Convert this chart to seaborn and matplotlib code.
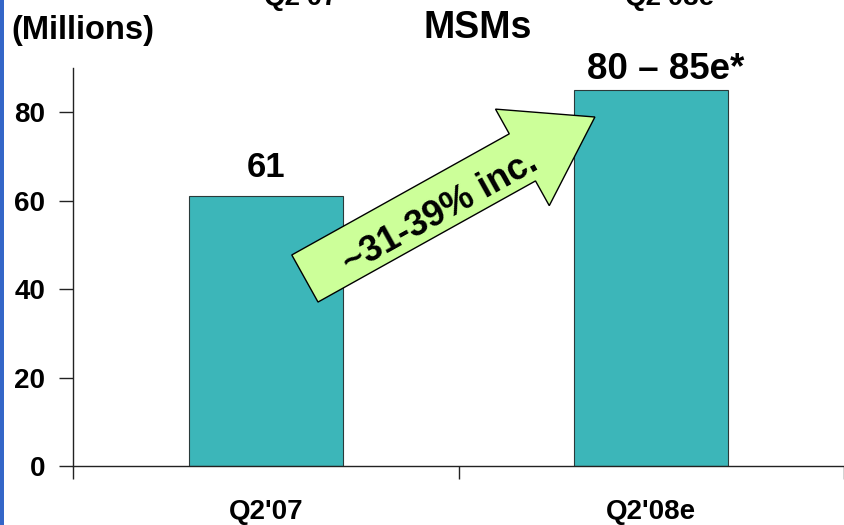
import matplotlib
matplotlib.use("Agg")
import matplotlib.pyplot as plt
from matplotlib.patches import FancyArrow, Rectangle
import seaborn as sns
import pandas as pd

# Data
quarters = ["Q2'07", "Q2'08e"]
msms_millions = [61, 85]
value_labels = ["61", "80 \u2013 85e*"]
yticks = [0, 20, 40, 60, 80]
growth_text = "~31-39% inc."

sns.set_theme(style="white")
plt.rcParams["font.family"] = ["Liberation Sans", "DejaVu Sans"]
plt.rcParams["font.weight"] = "bold"
plt.rcParams["text.color"] = "black"
plt.rcParams["xtick.labelcolor"] = "black"
plt.rcParams["ytick.labelcolor"] = "black"

W, H = 844, 525
fig = plt.figure(figsize=(W / 100, H / 100), dpi=100)
fig.patch.set_facecolor("white")
ax = fig.add_axes([73 / W, 1 - 466 / H, (W - 73) / W, (466 - 68) / H])

df = pd.DataFrame({"quarter": quarters, "msms": msms_millions})
sns.barplot(data=df, x="quarter", y="msms", color="#3cb6b9", saturation=1,
            width=0.4, edgecolor="#2a3a3a", linewidth=0.8, ax=ax)

ax.set_xlim(-0.5, 1.5)
ax.set_ylim(0, 90)
ax.set_xlabel("")
ax.set_ylabel("")

# Spines: only left and bottom, thin dark lines
for side in ["top", "right"]:
    ax.spines[side].set_visible(False)
for side in ["left", "bottom"]:
    ax.spines[side].set_color("#222222")
    ax.spines[side].set_linewidth(1.0)

# Y ticks
ax.set_yticks(yticks)
ax.set_yticklabels([str(v) for v in yticks], fontsize=20, fontweight="bold",
                   color="black")
ax.tick_params(axis="y", direction="out", length=10, width=1, color="#222222",
               pad=10, left=True)

# X: category labels on major ticks (no marks), boundary marks on minor ticks
ax.set_xticks([0, 1])
ax.set_xticklabels(quarters, fontsize=20, fontweight="bold", color="black")
ax.tick_params(axis="x", which="major", length=0, pad=24)
ax.set_xticks([-0.5, 0.5, 1.5], minor=True)
ax.tick_params(axis="x", which="minor", direction="out", length=9, width=1,
               color="#222222", bottom=True)

# Value labels above bars
label_offsets = [(0, 14), (10, 8)]
for i, (v, lab) in enumerate(zip(msms_millions, value_labels)):
    ax.annotate(lab, xy=(i, v), xytext=label_offsets[i],
                textcoords="offset points", ha="center", va="baseline",
                fontsize=[25, 26.5][i], fontweight="bold", color="black")

# Titles
fig.text(478 / W, 1 - 38 / H, "MSMs", ha="center", va="baseline",
         fontsize=27, fontweight="bold", color="black")
fig.text(11 / W, 1 - 39 / H, "(Millions)", ha="left", va="baseline",
         fontsize=23.5, fontweight="bold", color="black")
# Header labels cut off at the top edge
fig.text(301 / W, 1 - 5 / H, quarters[0], ha="center", va="baseline",
         fontsize=20, fontweight="bold", color="black")
fig.text(670 / W, 1 - 5 / H, "Q2'08e", ha="center", va="baseline",
         fontsize=20, fontweight="bold", color="black")

# Growth arrow (drawn in inches on the figure)
arrow = FancyArrow(3.049, (H - 278.5) / 100, 2.90, 1.615,
                   width=0.539, head_width=1.105, head_length=0.83,
                   length_includes_head=True, transform=fig.dpi_scale_trans,
                   facecolor="#ccff99", edgecolor="black", linewidth=1.0,
                   zorder=10, clip_on=False)
fig.patches.append(arrow)
fig.text(4.40, (H - 213) / 100, growth_text, transform=fig.dpi_scale_trans,
         rotation=29.1, rotation_mode="anchor", ha="center", va="center",
         fontsize=26, fontweight="bold", color="black", zorder=11)

# Blue accent strip along the left edge
fig.patches.append(Rectangle((0, 0), 4 / W, 1, transform=fig.transFigure,
                             facecolor="#3466c8", edgecolor="none", zorder=5))

fig.savefig("out.png", dpi=100)
